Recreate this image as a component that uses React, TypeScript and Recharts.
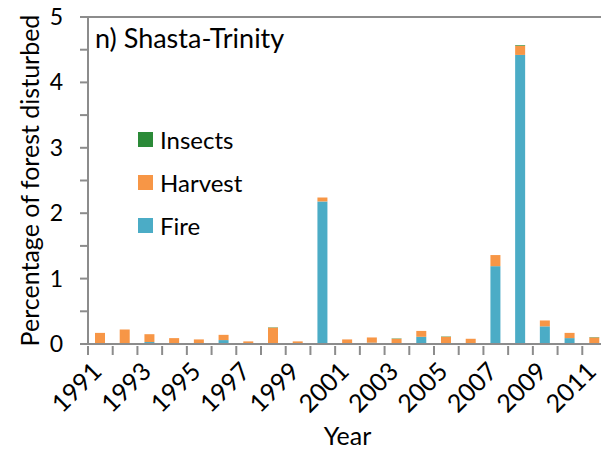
import { Bar, BarChart, Legend, ReferenceLine, XAxis, YAxis } from "recharts";

const years = [
  "1991", "1992", "1993", "1994", "1995", "1996", "1997", "1998", "1999", "2000",
  "2001", "2002", "2003", "2004", "2005", "2006", "2007", "2008", "2009", "2010", "2011",
];
const fire = [0, 0, 0.03, 0, 0, 0.06, 0, 0, 0, 2.18, 0, 0.02, 0, 0.11, 0, 0, 1.19, 4.42, 0.27, 0.09, 0];
const harvest = [0.17, 0.22, 0.12, 0.09, 0.07, 0.08, 0.04, 0.25, 0.04, 0.06, 0.07, 0.08, 0.08, 0.09, 0.11, 0.08, 0.17, 0.14, 0.09, 0.08, 0.1];
const insects = [0, 0, 0, 0, 0, 0, 0, 0.005, 0, 0, 0, 0, 0.005, 0, 0.005, 0, 0, 0.01, 0, 0, 0.005];
const yTicks = [0, 0.5, 1, 1.5, 2, 2.5, 3, 3.5, 4, 4.5, 5];

const data = years.map((year, i) => ({
  year,
  fire: fire[i],
  harvest: harvest[i],
  insects: insects[i],
}));

const FONT = "Lato, 'Open Sans', sans-serif";
const AXIS = "#8c8c8c";
const CHART_W = 607;
const PLOT_LEFT = 88;

function YTick({ x, y, payload }: any) {
  if (!Number.isInteger(payload.value)) return <g />;
  return (
    <text x={x} y={y} dy={8} textAnchor="end" fontSize={23} fontFamily={FONT} fill="#000">
      {payload.value}
    </text>
  );
}

// tick marks sit between categories, labels on every other year
function XTick({ x, y, payload, index }: any) {
  const half = payload.offset || (CHART_W - PLOT_LEFT) / years.length / 2;
  const i = index ?? payload.index ?? 0;
  return (
    <g>
      <line x1={x - half} y1={y} x2={x - half} y2={y + 9} stroke={AXIS} strokeWidth={2} />
      {i % 2 === 0 && (
        <g transform={`translate(${x + 3},${y + 27})`}>
          <text textAnchor="end" transform="rotate(-45)" fontSize={25} fontFamily={FONT} fill="#000">
            {payload.value}
          </text>
        </g>
      )}
    </g>
  );
}

const legendItems = [
  { label: "Insects", color: "#2b8a38" },
  { label: "Harvest", color: "#f79646" },
  { label: "Fire", color: "#4bacc6" },
];

function LegendBox() {
  return (
    <div style={{ fontFamily: FONT, fontSize: 24, color: "#000" }}>
      {legendItems.map((item) => (
        <div key={item.label} style={{ display: "flex", alignItems: "center", height: 43 }}>
          <span style={{ width: 15, height: 15, background: item.color, marginRight: 7 }} />
          <span>{item.label}</span>
        </div>
      ))}
    </div>
  );
}

export default function App() {
  return (
    <div style={{ position: "absolute", left: 0, top: 0, width: 601, height: 452, overflow: "hidden", background: "#fff" }}>
      <BarChart
        width={CHART_W}
        height={452}
        data={data}
        margin={{ top: 17, right: 0, bottom: 0, left: 0 }}
        barSize={10}
      >
        <XAxis
          dataKey="year"
          interval={0}
          tick={<XTick />}
          tickLine={false}
          tickSize={0}
          axisLine={{ stroke: AXIS, strokeWidth: 2 }}
          height={108}
          label={{ value: "Year", position: "insideBottom", offset: 7, fontSize: 25, fontFamily: FONT, fill: "#000" }}
        />
        <YAxis
          type="number"
          domain={[0, 5]}
          ticks={yTicks}
          interval={0}
          width={PLOT_LEFT}
          tick={<YTick />}
          tickSize={8}
          tickMargin={17}
          tickLine={{ stroke: AXIS, strokeWidth: 2 }}
          axisLine={{ stroke: AXIS, strokeWidth: 2 }}
          label={{
            value: "Percentage of forest disturbed",
            angle: -90,
            position: "insideLeft",
            offset: 30,
            style: { textAnchor: "middle" },
            fontSize: 25,
            fontFamily: FONT,
            fill: "#000",
          }}
        />
        <ReferenceLine y={5} stroke={AXIS} strokeWidth={2} />
        <Legend
          layout="vertical"
          align="center"
          verticalAlign="middle"
          content={<LegendBox />}
          wrapperStyle={{ position: "absolute", left: 138, top: 118, width: "auto" }}
        />
        <Bar dataKey="fire" name="Fire" stackId="a" fill="#4bacc6" isAnimationActive={false} />
        <Bar dataKey="harvest" name="Harvest" stackId="a" fill="#f79646" isAnimationActive={false} />
        <Bar dataKey="insects" name="Insects" stackId="a" fill="#2b8a38" isAnimationActive={false} />
      </BarChart>
      <div style={{ position: "absolute", left: 95, top: 21, fontFamily: FONT, fontSize: 27, color: "#000" }}>
        n) Shasta-Trinity
      </div>
    </div>
  );
}
